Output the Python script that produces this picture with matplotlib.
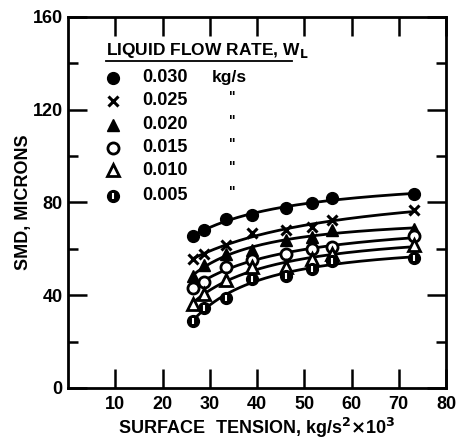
import numpy as np
import matplotlib
matplotlib.use("Agg")
import matplotlib.pyplot as plt

# ---- data ----
surface_tension = [26.5, 28.8, 33.4, 39.0, 46.1, 51.6, 55.8, 73.3]
smd_030 = [65.5, 68.0, 73.0, 74.5, 77.5, 79.7, 82.0, 83.7]
smd_025 = [55.8, 57.9, 61.5, 66.8, 68.0, 69.4, 72.3, 76.6]
smd_020 = [48.2, 52.9, 57.9, 59.4, 63.7, 65.1, 68.0, 68.7]
smd_015 = [43.3, 45.7, 52.2, 55.0, 57.9, 59.8, 61.0, 65.4]
smd_010 = [36.4, 40.7, 46.5, 52.0, 52.2, 55.8, 57.9, 61.5]
smd_005 = [29.0, 34.7, 38.8, 47.2, 48.2, 51.5, 54.7, 56.2]
flow_labels = ["0.030", "0.025", "0.020", "0.015", "0.010", "0.005"]
x_ticks = [10, 20, 30, 40, 50, 60, 70, 80]
y_ticks = [0, 40, 80, 120, 160]

plt.rcParams['font.family'] = ['Liberation Sans', 'DejaVu Sans']
plt.rcParams['font.weight'] = 'bold'

fig = plt.figure(figsize=(4.6, 4.41), dpi=100)
ax = fig.add_axes([0.148, 0.1202, 0.8216, 0.8413])
ax.set_xlim(0, 80)
ax.set_ylim(0, 160)

series = [smd_030, smd_025, smd_020, smd_015, smd_010, smd_005]
styles = [
    dict(marker='o', mfc='black', mec='black', ms=8.5),
    dict(marker='x', mfc='black', mec='black', ms=7.5, mew=2.2),
    dict(marker='^', mfc='black', mec='black', ms=8.5),
    dict(marker='o', mfc='white', mec='black', ms=8, mew=2),
    dict(marker='^', mfc='white', mec='black', ms=8.5, mew=2),
    dict(marker='o', mfc='black', mec='black', ms=8.5),
]

x = np.array(surface_tension)
xs = np.linspace(x.min(), x.max(), 200)
for ys, st in zip(series, styles):
    ys = np.array(ys)
    coef = np.polyfit(1.0 / x, ys, 2)
    ax.plot(xs, np.polyval(coef, 1.0 / xs), color='black', lw=2.0, zorder=2)
    ax.plot(x, ys, ls='none', zorder=3, **st)
# white stripe inside the 0.005 markers
ax.plot(x, smd_005, ls='none', marker='|', ms=5, mec='white', mew=1.5, zorder=4)

# ---- axes styling ----
for s in ax.spines.values():
    s.set_linewidth(2.0)
ax.set_xticks(x_ticks)
ax.set_xticklabels([str(v) for v in x_ticks])
ax.set_yticks(y_ticks)
ax.set_yticklabels([str(v) for v in y_ticks])
ax.set_yticks([20, 60, 100, 140], minor=True)
ax.tick_params(axis='x', which='major', direction='in', length=14, width=1.8,
               top=True, labelsize=13, pad=6)
ax.tick_params(axis='y', which='major', direction='in', length=14, width=1.8,
               right=True, labelsize=13, pad=4)
ax.tick_params(axis='y', which='minor', direction='in', length=7, width=1.8,
               right=True)
for lab in ax.get_xticklabels() + ax.get_yticklabels():
    lab.set_fontweight('bold')

ax.set_xlabel(r"SURFACE  TENSION, kg/s$^{\mathbf{2}}$$\times$10$^{\mathbf{3}}$",
              fontsize=13, fontweight='bold', labelpad=2)
ax.set_ylabel("SMD, MICRONS", fontsize=13, fontweight='bold', labelpad=0)

# ---- hand-made legend ----
ax.text(8.0, 145.5, r"LIQUID FLOW RATE, W$_{\mathbf{L}}$", fontsize=12.5,
        fontweight='bold', ha='left', va='center')
ax.plot([8.0, 47.5], [141.0, 141.0], color='black', lw=1.3,
        transform=ax.transData, clip_on=False)
leg_y = [133.8, 123.9, 113.5, 103.7, 93.8, 83.0]
for i, (lab, st) in enumerate(zip(flow_labels, styles)):
    ax.plot([9.5], [leg_y[i]], ls='none', **st)
    if i == 5:
        ax.plot([9.5], [leg_y[i]], ls='none', marker='|', ms=5, mec='white', mew=1.5)
    ax.text(15.8, leg_y[i], lab, fontsize=13, fontweight='bold',
            ha='left', va='center')
    if i == 0:
        ax.text(30.5, leg_y[i], "kg/s", fontsize=12.5, fontweight='bold',
                ha='left', va='center')
    else:
        ax.text(34.8, leg_y[i] + 1.5, '"', fontsize=10, fontweight='bold',
                ha='center', va='center')

fig.savefig("out.png", dpi=100)
